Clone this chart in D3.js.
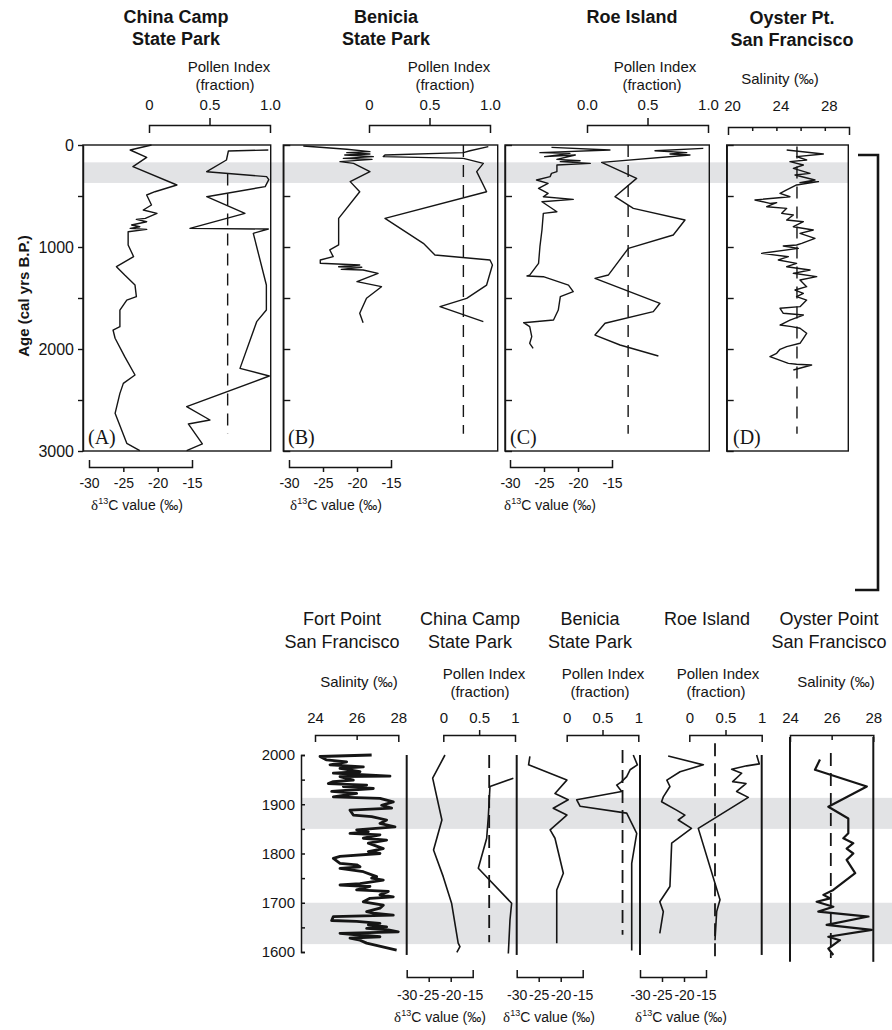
<!DOCTYPE html>
<html>
<head>
<meta charset="utf-8">
<script src="https://cdn.jsdelivr.net/npm/d3@7"></script>
<style>
  body { margin: 0; background: #fff; }
  svg { display: block; }
</style>
</head>
<body>
<div id="chart"></div>
<script>
// ---------- data: long records, [age cal yrs B.P., value] ----------
const chinaCampD13C = [[0,-20.9],[49,-24.0],[121,-21.6],[212,-23.6],[392,-17.2],[458,-20.4],[490,-21.6],[588,-20.9],[637,-22.1],[670,-20.1],[719,-21.8],[729,-23.1],[752,-21.6],[784,-23.8],[801,-22.6],[817,-24.0],[827,-21.6],[850,-24.3],[980,-24.3],[1095,-23.5],[1193,-26.0],[1275,-24.8],[1373,-23.3],[1487,-23.1],[1520,-24.5],[1618,-25.5],[1781,-25.5],[1814,-26.5],[1895,-26.2],[2075,-24.8],[2255,-23.3],[2337,-25.0],[2435,-25.5],[2631,-26.2],[2925,-24.5],[2997,-22.6]];
const chinaCampPollen = [[49,0.986],[59,0.656],[147,0.64],[262,0.477],[310,0.972],[340,0.99],[408,0.96],[507,0.477],[670,0.793],[817,0.339],[824,0.986],[866,0.862],[1373,0.97],[1618,0.97],[1732,0.89],[2190,0.752],[2265,0.994],[2565,0.311],[2696,0.504],[2735,0.325],[2931,0.441],[2997,0.311]];
const beniciaD13C = [[10,-27.9],[42,-21.5],[65,-18.1],[75,-21.5],[88,-18.1],[98,-21.8],[114,-17.6],[131,-22.0],[141,-17.8],[163,-22.5],[180,-20.5],[261,-18.1],[359,-21.0],[458,-19.6],[719,-22.7],[980,-22.7],[1029,-24.0],[1095,-23.5],[1127,-25.4],[1160,-25.4],[1176,-19.6],[1193,-22.7],[1199,-19.3],[1219,-22.3],[1225,-19.1],[1258,-16.9],[1340,-20.0],[1389,-16.4],[1503,-18.6],[1650,-19.6],[1742,-19.1]];
const beniciaPollen = [[16,0.986],[56,0.835],[75,0.78],[98,0.132],[114,0.118],[131,0.78],[180,0.945],[261,0.89],[458,0.972],[719,0.132],[964,0.449],[1078,0.545],[1127,1.0],[1176,1.02],[1373,0.972],[1503,0.807],[1585,0.587],[1732,0.945]];
const roeD13C = [[23,-23.9],[49,-15.3],[75,-25.6],[82,-21.2],[114,-24.9],[98,-20.4],[141,-23.1],[154,-19.7],[163,-22.6],[180,-18.2],[196,-23.1],[261,-23.1],[278,-23.9],[310,-24.1],[343,-26.1],[376,-24.4],[425,-25.8],[474,-24.4],[507,-25.1],[533,-20.7],[556,-25.3],[654,-23.1],[670,-25.1],[833,-25.3],[997,-25.6],[1160,-25.8],[1275,-27.1],[1284,-27.5],[1291,-25.1],[1373,-21.4],[1438,-20.7],[1487,-22.6],[1618,-22.9],[1716,-23.6],[1742,-28.0],[1781,-27.1],[1879,-26.8],[1944,-27.1],[1993,-26.6]];
const roePollen = [[33,0.961],[56,0.562],[75,0.824],[88,0.686],[98,0.851],[170,0.121],[327,0.41],[507,0.231],[621,0.383],[735,0.81],[882,0.713],[1013,0.342],[1275,0.176],[1307,0.066],[1552,0.603],[1634,0.548],[1748,0.149],[1863,0.066],[1961,0.273],[2069,0.59]];
const oysterSalinity = [[49,24.85],[88,27.88],[114,25.67],[147,26.5],[163,25.12],[196,26.23],[229,25.4],[278,26.78],[294,25.54],[343,27.19],[369,25.95],[359,27.47],[392,25.67],[441,24.85],[474,24.3],[507,25.12],[539,22.23],[572,23.47],[565,24.02],[605,23.2],[621,24.85],[670,24.44],[686,25.4],[735,24.85],[752,26.23],[801,25.4],[833,27.05],[866,25.95],[915,27.19],[964,26.09],[980,25.67],[990,24.57],[1013,25.81],[1062,22.78],[1095,24.99],[1127,24.16],[1160,25.67],[1193,24.85],[1225,26.78],[1258,25.4],[1291,27.33],[1324,25.95],[1389,26.5],[1422,25.54],[1454,26.23],[1487,25.67],[1520,26.5],[1585,25.95],[1601,24.3],[1650,24.57],[1667,26.23],[1716,25.12],[1765,24.3],[1781,25.26],[1797,25.95],[1846,26.5],[1895,26.23],[1944,25.95],[1977,24.85],[2003,24.3],[2042,24.02],[2075,23.47],[2141,24.99],[2150,25.67],[2157,26.91],[2206,25.4]];

// reference values (dashed lines) and shaded interval, long records
const longMeans = { chinaCamp: 0.65, benicia: 0.78, roe: 0.34, oyster: 25.7 };
const longBand = [170, 372];

// ---------- data: last 400 years, [year A.D., value] ----------
const fortPointSalinity = [[2000,26.72],[1997,24.24],[1990,24.56],[1986,25.52],[1980,24.72],[1976,26.32],[1973,25.2],[1966,26.16],[1963,24.88],[1957,27.6],[1956,25.2],[1949,25.84],[1946,24.88],[1942,24.64],[1939,26.48],[1936,25.36],[1932,26.8],[1926,24.8],[1922,26.0],[1915,24.88],[1912,27.12],[1905,27.76],[1898,27.2],[1892,27.68],[1888,25.68],[1878,25.84],[1875,26.72],[1868,27.44],[1861,27.12],[1854,27.84],[1848,26.0],[1844,26.56],[1841,25.68],[1838,27.12],[1831,26.32],[1827,27.44],[1821,26.56],[1810,27.28],[1804,26.56],[1800,27.12],[1794,25.2],[1790,24.88],[1780,25.2],[1777,26.0],[1773,26.16],[1770,25.2],[1763,26.32],[1753,26.96],[1750,26.72],[1746,27.28],[1739,26.16],[1736,25.2],[1733,26.64],[1726,26.0],[1723,27.52],[1716,27.12],[1712,27.76],[1709,26.64],[1702,26.32],[1695,27.28],[1689,27.12],[1682,26.48],[1679,26.8],[1675,27.76],[1672,24.88],[1664,24.8],[1662,26.0],[1658,27.12],[1655,26.56],[1651,27.44],[1648,26.48],[1645,27.52],[1641,28.0],[1638,25.2],[1635,26.0],[1631,27.12],[1628,25.68],[1624,26.16],[1618,26.48],[1604,27.92]];
const chinaCampD13CRecent = [[2000,-21.3],[1953,-24.1],[1868,-22.0],[1807,-23.9],[1753,-21.7],[1699,-19.8],[1618,-18.3],[1611,-17.9],[1599,-18.6]];
const chinaCampPollenRecent = [[1953,0.977],[1936,0.651],[1875,0.628],[1831,0.605],[1770,0.488],[1699,0.953],[1665,0.93],[1597,0.907]];
const beniciaD13CRecent = [[1997,-27.0],[1980,-27.3],[1949,-18.6],[1922,-21.3],[1909,-18.3],[1892,-21.7],[1878,-18.6],[1848,-22.4],[1831,-21.3],[1760,-19.4],[1726,-20.9],[1618,-20.9]];
const beniciaPollenRecent = [[2000,0.93],[1980,0.987],[1970,0.885],[1956,0.838],[1945,0.76],[1939,0.698],[1926,0.768],[1909,0.14],[1896,0.186],[1882,0.838],[1841,0.978],[1780,0.908],[1603,0.908]];
const roeD13CRecent = [[1998,-23.6],[1980,-15.6],[1966,-20.9],[1949,-23.9],[1936,-23.2],[1915,-24.7],[1905,-25.1],[1888,-21.7],[1878,-19.8],[1868,-21.3],[1851,-18.3],[1821,-22.8],[1733,-23.2],[1702,-25.5],[1682,-24.7],[1638,-25.5]];
const roePollenRecent = [[2000,0.93],[1982,0.967],[1978,0.792],[1971,0.585],[1963,0.723],[1946,0.599],[1942,0.783],[1926,0.654],[1914,0.815],[1851,0.124],[1706,0.424],[1682,0.378],[1624,0.355]];
const oysterSalinityRecent = [[1991,25.44],[1970,25.2],[1936,27.69],[1895,25.84],[1871,26.8],[1841,26.8],[1831,26.56],[1821,27.04],[1810,26.72],[1800,27.04],[1787,26.72],[1760,27.13],[1726,26.08],[1716,25.6],[1709,25.92],[1702,25.28],[1692,26.08],[1682,25.36],[1672,27.77],[1655,25.76],[1645,27.93],[1631,25.84],[1624,26.4],[1607,25.84],[1594,26.08]];
const recentMeans = { chinaCamp: 0.64, benicia: 0.78, roe: 0.355, oyster: 25.96 };
const recentBands = [[1850, 1913], [1616, 1700]];

// tick values
const ageTicks = [0, 500, 1000, 1500, 2000, 2500, 3000];
const yearTicks = d3.range(1600, 2001, 50);
const pollenTicks = [0, 0.5, 1];
const d13cTicks = [-30, -25, -20, -15];

// ---------- setup ----------
const FONT = '"Liberation Sans", Arial, Helvetica, sans-serif';
const INK = "#151515";
const W = 892, H = 1030;

const svg = d3.select("#chart").append("svg")
  .attr("width", W).attr("height", H)
  .style("font-family", FONT);

// y scales
const ageY = d3.scaleLinear().domain([0, 3000]).range([145, 451]);
const yearY = d3.scaleLinear().domain([1600, 2000]).range([952, 755]);

// x scales, long records
const xA13 = d3.scaleLinear().domain([-30, -15]).range([89, 192]);
const xAPol = d3.scaleLinear().domain([0, 1]).range([149, 270]);
const xB13 = d3.scaleLinear().domain([-30, -15]).range([289, 391]);
const xBPol = d3.scaleLinear().domain([0, 1]).range([369, 490]);
const xC13 = d3.scaleLinear().domain([-30, -15]).range([510, 612]);
const xCPol = d3.scaleLinear().domain([0, 1]).range([587, 708]);
const xDSal = d3.scaleLinear().domain([20, 30]).range([728, 849]);

// x scales, last 400 years
const xFP = d3.scaleLinear().domain([24, 28]).range([315, 398.3]);
const xCC13 = d3.scaleLinear().domain([-30, -15]).range([406.7, 472.7]);
const xCCPol = d3.scaleLinear().domain([0, 1]).range([443.3, 515]);
const xBe13 = d3.scaleLinear().domain([-30, -15]).range([516.7, 582.7]);
const xBePol = d3.scaleLinear().domain([0, 1]).range([566.7, 638.3]);
const xRo13 = d3.scaleLinear().domain([-30, -15]).range([640, 706]);
const xRoPol = d3.scaleLinear().domain([0, 1]).range([689.3, 761.7]);
const xOP = d3.scaleLinear().domain([24, 28]).range([790, 873.3]);

// ---------- shaded intervals ----------
svg.append("rect")
  .attr("x", 83).attr("width", 848.3 - 83)
  .attr("y", ageY(longBand[0])).attr("height", ageY(longBand[1]) - ageY(longBand[0]))
  .attr("fill", "#e2e3e5");

svg.selectAll("rect.recentBand").data(recentBands).enter().append("rect")
  .attr("class", "recentBand")
  .attr("x", 301).attr("width", W - 301)
  .attr("y", d => yearY(d[1])).attr("height", d => yearY(d[0]) - yearY(d[1]))
  .attr("fill", "#e2e3e5");

// ---------- frames of the long records ----------
const frames = [
  { x0: 83, x1: 270.7, label: "(A)", lx: 88 },
  { x0: 283.3, x1: 497.7, label: "(B)", lx: 288 },
  { x0: 505, x1: 709.3, label: "(C)", lx: 510 },
  { x0: 726.7, x1: 848.3, label: "(D)", lx: 733 }
];
frames.forEach((f, i) => {
  svg.append("rect")
    .attr("x", f.x0).attr("y", ageY(0))
    .attr("width", f.x1 - f.x0).attr("height", ageY(3000) - ageY(0))
    .attr("fill", "none").attr("stroke", INK).attr("stroke-width", 1.4);
  svg.append("text")
    .attr("x", f.lx).attr("y", 444)
    .attr("font-family", '"Liberation Serif", "Times New Roman", serif')
    .attr("font-size", 20).attr("fill", INK)
    .text(f.label);
  // inner age ticks for B, C, D
  if (i > 0) {
    const g = svg.append("g").attr("transform", `translate(${f.x0},0)`)
      .call(d3.axisLeft(ageY).tickValues(ageTicks).tickSizeInner(-7).tickSizeOuter(0).tickFormat(""));
    g.select(".domain").attr("stroke", INK).attr("stroke-width", 1.4);
    g.selectAll(".tick line").attr("stroke", INK).attr("stroke-width", 1.4);
  }
});

// age axis on panel A
const ageAxis = svg.append("g").attr("transform", "translate(83,0)")
  .call(d3.axisLeft(ageY).tickValues(ageTicks).tickSizeInner(5).tickSizeOuter(0).tickPadding(4)
    .tickFormat(d => d % 1000 === 0 ? String(d) : ""));
ageAxis.attr("font-family", FONT).attr("font-size", 16);
ageAxis.select(".domain").attr("stroke", INK).attr("stroke-width", 1.4);
ageAxis.selectAll(".tick line").attr("stroke", INK).attr("stroke-width", 1.4);
ageAxis.selectAll(".tick text").attr("fill", INK);

svg.append("text")
  .attr("transform", "translate(29,296) rotate(-90)")
  .attr("text-anchor", "middle")
  .attr("font-size", 15).attr("font-weight", "bold").attr("fill", INK)
  .text("Age (cal yrs B.P.)");

// ---------- bracket axes ----------
function bracket(scale, y, orient, o) {
  const maker = orient === "top" ? d3.axisTop : d3.axisBottom;
  const fmt = o.fmt || (d => String(d));
  const ax = maker(scale).tickValues(o.ticks)
    .tickSizeInner(o.inner).tickSizeOuter(o.outer).tickPadding(o.pad)
    .tickFormat(d => (o.labels ? (o.labels.includes(d) ? fmt(d) : "") : fmt(d)));
  const g = svg.append("g").attr("transform", `translate(0,${y})`).call(ax);
  g.attr("font-family", FONT).attr("font-size", o.fs);
  const [d0, d1] = scale.domain();
  g.select(".domain").attr("stroke", INK).attr("stroke-width", 1.5).attr("fill", "none");
  g.selectAll(".tick line").attr("stroke", INK).attr("stroke-width", 1.5)
    .attr("display", d => (d === d0 || d === d1) ? "none" : null);
  g.selectAll(".tick text").attr("fill", INK).attr("dx", o.dx || 0);
  return g;
}

// pollen brackets, long records
bracket(xAPol, 125, "top", { ticks: pollenTicks, inner: 7, outer: -8, pad: 8, fs: 15, fmt: d => d === 0 ? "0" : d3.format(".1f")(d) });
bracket(xBPol, 125, "top", { ticks: pollenTicks, inner: 7, outer: -8, pad: 8, fs: 15, fmt: d => d === 0 ? "0" : d3.format(".1f")(d) });
bracket(xCPol, 125, "top", { ticks: pollenTicks, inner: 7, outer: -8, pad: 8, fs: 15, fmt: d3.format(".1f") });
bracket(xDSal, 127, "top", { ticks: [20, 22, 24, 26, 28, 30], labels: [20, 24, 28], inner: -4, outer: -8, pad: 16, fs: 15, dx: 4 });

// d13C brackets, long records
[xA13, xB13, xC13].forEach(s =>
  bracket(s, 467, "bottom", { ticks: d13cTicks, inner: 5, outer: -7, pad: 6, fs: 14 }));

// brackets, last 400 years
bracket(xFP, 735, "top", { ticks: [24, 26, 28], inner: -5, outer: -7, pad: 12, fs: 15 });
bracket(xOP, 735, "top", { ticks: [24, 26, 28], inner: -5, outer: -7, pad: 12, fs: 15 });
[xCCPol, xBePol, xRoPol].forEach(s =>
  bracket(s, 735, "top", { ticks: pollenTicks, inner: 5, outer: -7, pad: 7, fs: 15 }));
[xCC13, xBe13, xRo13].forEach(s =>
  bracket(s, 977, "bottom", { ticks: d13cTicks, inner: 5, outer: -7, pad: 8, fs: 14 }));

// year axis
const yearAxis = svg.append("g").attr("transform", "translate(301,0)")
  .call(d3.axisLeft(yearY).tickValues(yearTicks).tickSizeInner(-4).tickSizeOuter(-4).tickPadding(6)
    .tickFormat(d => d % 100 === 0 ? String(d) : ""));
yearAxis.attr("font-family", FONT).attr("font-size", 15);
yearAxis.select(".domain").attr("stroke", INK).attr("stroke-width", 1.5);
yearAxis.selectAll(".tick line").attr("stroke", INK).attr("stroke-width", 1.5);
yearAxis.selectAll(".tick text").attr("fill", INK);

// separators of the lower panels
[xCC13(-30), xBe13(-30), xRo13(-30), xRoPol(1)].forEach(x =>
  svg.append("line").attr("x1", x).attr("x2", x)
    .attr("y1", yearY(2000)).attr("y2", yearY(1594))
    .attr("stroke", INK).attr("stroke-width", 2));
[xOP(24), xOP(28)].forEach(x =>
  svg.append("line").attr("x1", x).attr("x2", x)
    .attr("y1", 737).attr("y2", yearY(1580))
    .attr("stroke", INK).attr("stroke-width", 2));

// ---------- dashed reference lines ----------
function dashed(x, y1, y2, dash, w) {
  svg.append("line").attr("x1", x).attr("x2", x).attr("y1", y1).attr("y2", y2)
    .attr("stroke", INK).attr("stroke-width", w).attr("stroke-dasharray", dash);
}
dashed(xAPol(longMeans.chinaCamp), ageY(280), ageY(2830), "12,8", 1.4);
dashed(xBPol(longMeans.benicia), ageY(0), ageY(2830), "12,8", 1.4);
dashed(xCPol(longMeans.roe), ageY(0), ageY(2830), "12,8", 1.4);
dashed(xDSal(longMeans.oyster), ageY(15), ageY(2830), "12,8", 1.4);
dashed(xCCPol(recentMeans.chinaCamp), yearY(2000), yearY(1620), "13,7", 1.8);
dashed(xBePol(recentMeans.benicia), yearY(2010), yearY(1635), "13,7", 1.8);
dashed(xRoPol(recentMeans.roe), yearY(2024), yearY(1578), "13,7", 1.8);
dashed(xOP(recentMeans.oyster), yearY(2004), yearY(1588), "13,7", 1.8);

// ---------- curves ----------
function curve(data, x, y, w) {
  svg.append("path").datum(data)
    .attr("fill", "none").attr("stroke", INK).attr("stroke-width", w)
    .attr("stroke-linejoin", "round")
    .attr("d", d3.line().x(d => x(d[1])).y(d => y(d[0])));
}
curve(chinaCampD13C, xA13, ageY, 1.4);
curve(chinaCampPollen, xAPol, ageY, 1.4);
curve(beniciaD13C, xB13, ageY, 1.4);
curve(beniciaPollen, xBPol, ageY, 1.4);
curve(roeD13C, xC13, ageY, 1.4);
curve(roePollen, xCPol, ageY, 1.4);
curve(oysterSalinity, xDSal, ageY, 1.4);

curve(fortPointSalinity, xFP, yearY, 2.8);
curve(chinaCampD13CRecent, xCC13, yearY, 1.6);
curve(chinaCampPollenRecent, xCCPol, yearY, 1.6);
curve(beniciaD13CRecent, xBe13, yearY, 1.6);
curve(beniciaPollenRecent, xBePol, yearY, 1.6);
curve(roeD13CRecent, xRo13, yearY, 1.6);
curve(roePollenRecent, xRoPol, yearY, 1.6);
curve(oysterSalinityRecent, xOP, yearY, 2.2);

// link bracket between the two figure parts
svg.append("path")
  .attr("d", "M858,155H878V590H855")
  .attr("fill", "none").attr("stroke", INK).attr("stroke-width", 2.6);

// ---------- texts ----------
function label(x, y, txt, size, bold) {
  svg.append("text").attr("x", x).attr("y", y)
    .attr("text-anchor", "middle").attr("font-size", size)
    .attr("font-weight", bold ? "bold" : "normal").attr("fill", INK)
    .text(txt);
}
function d13cLabel(x, y) {
  const t = svg.append("text").attr("x", x).attr("y", y)
    .attr("text-anchor", "middle").attr("font-size", 14).attr("fill", INK);
  t.append("tspan").attr("font-family", '"Liberation Serif", serif').attr("font-size", 15).text("δ");
  t.append("tspan").attr("font-size", 9).attr("dy", -6).text("13");
  t.append("tspan").attr("dy", 6).text("C value (‰)");
}

// long-record titles
label(176, 23, "China Camp", 18, true);  label(176, 45, "State Park", 18, true);
label(386, 23, "Benicia", 18, true);     label(386, 45, "State Park", 18, true);
label(632, 23, "Roe Island", 18, true);
label(792, 24, "Oyster Pt.", 18, true);  label(792, 46, "San Francisco", 18, true);
[[229, 225], [449, 445], [655, 652]].forEach(([a, b]) => {
  label(a, 72, "Pollen Index", 15);
  label(b, 90, "(fraction)", 15);
});
label(780, 84, "Salinity (‰)", 15);
[137, 336, 550].forEach(x => d13cLabel(x, 510));

// recent-record titles
label(342, 625, "Fort Point", 18);   label(342, 648, "San Francisco", 18);
label(470, 625, "China Camp", 18);   label(470, 648, "State Park", 18);
label(590, 625, "Benicia", 18);      label(590, 648, "State Park", 18);
label(707, 625, "Roe Island", 18);
label(829, 625, "Oyster Point", 18); label(829, 648, "San Francisco", 18);
label(359, 687, "Salinity (‰)", 15);
label(836, 687, "Salinity (‰)", 15);
[[484, 480], [603, 600], [718, 716]].forEach(([a, b]) => {
  label(a, 679, "Pollen Index", 15);
  label(b, 697, "(fraction)", 15);
});
[440, 549, 681].forEach(x => d13cLabel(x, 1022));
</script>
</body>
</html>
